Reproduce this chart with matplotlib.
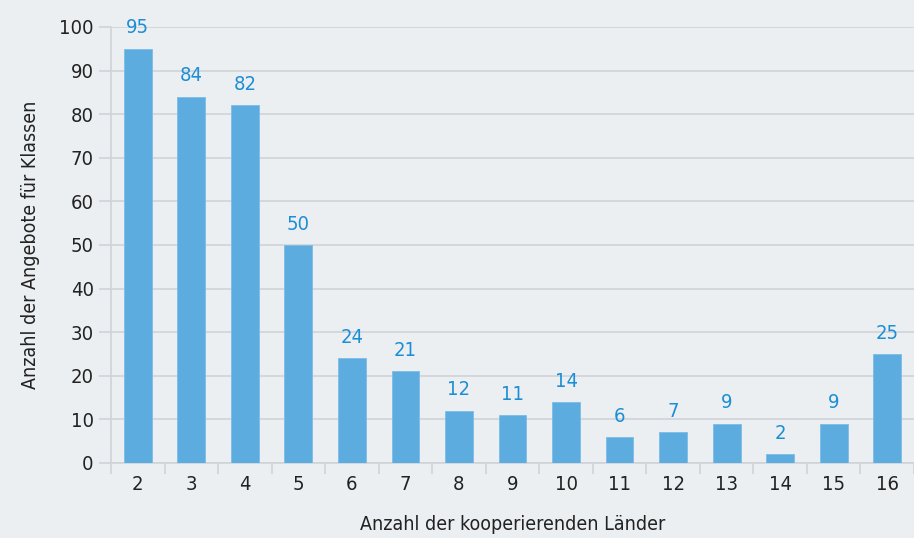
import matplotlib.pyplot as plt
import numpy as np

laender = ["2", "3", "4", "5", "6", "7", "8", "9", "10", "11", "12", "13", "14", "15", "16"]
angebote = [95, 84, 82, 50, 24, 21, 12, 11, 14, 6, 7, 9, 2, 9, 25]
yticks = [0, 10, 20, 30, 40, 50, 60, 70, 80, 90, 100]

plt.rcParams['font.family'] = ['DejaVu Sans']
plt.rcParams['font.stretch'] = 'condensed'

bg = "#eceff2"
grid_col = "#d0d3d7"
bar_col = "#5dace0"
label_col = "#1b8ed5"
text_col = "#222222"

fig = plt.figure(figsize=(9.14, 5.38), dpi=100, facecolor=bg)
ax = fig.add_axes([111 / 914, 75 / 538, 1 - 111 / 914, (463 - 27) / 538])
ax.set_facecolor(bg)

x = np.arange(len(laender))
ax.bar(x, angebote, width=0.52, color=bar_col, edgecolor="#7dbce6", linewidth=0.6, zorder=3)

for xi, v in zip(x, angebote):
    ax.text(xi, v + 2.6, str(v), ha="center", va="bottom", color=label_col,
            fontsize=14.5, clip_on=False)

ax.set_ylim(0, 100)
ax.set_xlim(-0.5, -0.5 + (914 - 111) / 54.3)
ax.set_yticks(yticks)
ax.set_yticklabels([str(t) for t in yticks], fontsize=14.5, color=text_col)
ax.yaxis.grid(True, color=grid_col, linewidth=1.2, zorder=0)
ax.set_axisbelow(True)

ax.set_xticks(x)
ax.set_xticklabels(laender, fontsize=14.5, color=text_col)
ax.set_xticks(np.arange(-0.5, len(laender), 1), minor=True)
ax.tick_params(axis="x", which="major", length=0, pad=9)
ax.tick_params(axis="x", which="minor", length=8, width=1.2, color=grid_col)
ax.tick_params(axis="y", length=8.5, width=1.2, color=grid_col, pad=4)

for side in ["top", "right"]:
    ax.spines[side].set_visible(False)
ax.spines["left"].set_color(grid_col)
ax.spines["left"].set_linewidth(1.2)
ax.spines["bottom"].set_color(grid_col)
ax.spines["bottom"].set_linewidth(1.2)

ax.set_xlabel("Anzahl der kooperierenden Länder", fontsize=14, color=text_col, labelpad=15)
ax.set_ylabel("Anzahl der Angebote für Klassen", fontsize=14, color=text_col, labelpad=14)

fig.savefig("out.png", dpi=100, facecolor=bg)
